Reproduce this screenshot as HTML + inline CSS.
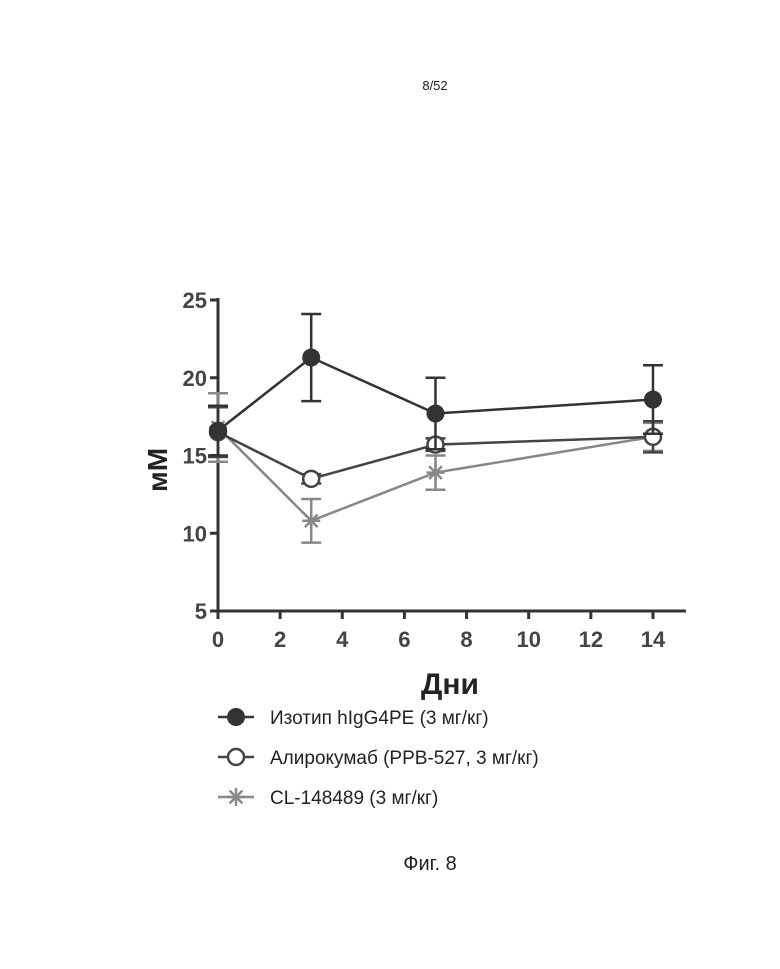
<!DOCTYPE html>
<html><head><meta charset="utf-8"><style>
body{margin:0;background:#fff;width:780px;height:964px;overflow:hidden;font-family:"Liberation Sans",sans-serif}
</style></head><body>
<svg width="780" height="964" viewBox="0 0 780 964" xmlns="http://www.w3.org/2000/svg" font-family="Liberation Sans, sans-serif">
<text x="435" y="90" font-size="13" text-anchor="middle" fill="#222">8/52</text>
<g id="chart"></g>
<text x="430" y="870" font-size="20" text-anchor="middle" fill="#222">Фиг. 8</text>
</svg>
<script>
const days=[0,3,7,14];
const isoMean=[16.6,21.3,17.7,18.6];
const isoErr=[1.6,2.8,2.3,2.2];
const aliMean=[16.5,13.5,15.7,16.2];
const aliErr=[1.6,0.3,0.4,1.0];
const clMean=[16.8,10.8,13.9,16.2];
const clErr=[2.2,1.4,1.1,0.9];
const xTicks=[0,2,4,6,8,10,12,14];
const yTicks=[5,10,15,20,25];
const NS="http://www.w3.org/2000/svg";
const g=document.getElementById('chart');
const X=v=>218+v*31.07, Y=v=>611-(v-5)*15.55;
function el(t,a,p){const e=document.createElementNS(NS,t);for(const k in a)e.setAttribute(k,a[k]);(p||g).appendChild(e);return e;}
let e;
e=el('line',{x1:218,y1:298,x2:218,y2:611,stroke:'#333','stroke-width':3});


e=el('line',{x1:218,y1:611,x2:686,y2:611,stroke:'#333','stroke-width':3});


yTicks.forEach(v=>{
 el('line',{x1:210,x2:218,y1:Y(v),y2:Y(v),stroke:'#333','stroke-width':3});
 e=el('text',{x:207,y:Y(v)+8,'text-anchor':'end','font-size':22,'font-weight':'bold',fill:'#444'});e.textContent=v;
 
 
});
xTicks.forEach(v=>{
 el('line',{x1:X(v),x2:X(v),y1:611,y2:619,stroke:'#333','stroke-width':3});
 e=el('text',{x:X(v),y:647,'text-anchor':'middle','font-size':22,'font-weight':'bold',fill:'#444'});e.textContent=v;
 
 
});
e=el('text',{x:0,y:0,transform:'translate(167,470) rotate(-90)','text-anchor':'middle','font-size':28,'font-weight':'bold',fill:'#222'});e.textContent='мМ';


e=el('text',{x:450,y:694,'text-anchor':'middle','font-size':30,'font-weight':'bold',fill:'#222'});e.textContent='Дни';


function star(cx,cy,r,col,p){const s=el('g',{stroke:col,'stroke-width':2.5},p);
 for(let a=0;a<4;a++){const t=a*Math.PI/4;el('line',{x1:cx-r*Math.cos(t),y1:cy-r*Math.sin(t),x2:cx+r*Math.cos(t),y2:cy+r*Math.sin(t)},s);}return s;}
function series(name,mean,err,col,type){
 const sg=el('g',{});
 
 
 el('polyline',{points:days.map((d,i)=>X(d)+','+Y(mean[i])).join(' '),fill:'none',stroke:col,'stroke-width':2.5},sg);
 days.forEach((d,i)=>{
  const x=X(d);
  el('line',{x1:x,x2:x,y1:Y(mean[i]-err[i]),y2:Y(mean[i]+err[i]),stroke:col,'stroke-width':2.5},sg);
  [mean[i]-err[i],mean[i]+err[i]].forEach(v=>el('line',{x1:x-10,x2:x+10,y1:Y(v),y2:Y(v),stroke:col,'stroke-width':2.5},sg));
  let m;
  if(type==='filled')m=el('circle',{cx:x,cy:Y(mean[i]),r:9,fill:'#333'},sg);
  else if(type==='open')m=el('circle',{cx:x,cy:Y(mean[i]),r:8,fill:'#fff',stroke:col,'stroke-width':2.5},sg);
  else m=star(x,Y(mean[i]),9,col,sg);
  
  
 });
}
series('series-cl148489',clMean,clErr,'#888','star');
series('series-alirocumab',aliMean,aliErr,'#444','open');
series('series-isotype',isoMean,isoErr,'#333','filled');
const leg=[['Изотип hIgG4PE (3 мг/кг)','filled','#333'],['Алирокумаб (PPB-527, 3 мг/кг)','open','#444'],['CL-148489 (3 мг/кг)','star','#888']];
leg.forEach((l,i)=>{
 const y=717+i*40;
 const lg=el('g',{});
 
 
 el('line',{x1:218,x2:254,y1:y,y2:y,stroke:l[2],'stroke-width':2.5},lg);
 if(l[1]==='filled')el('circle',{cx:236,cy:y,r:9,fill:'#333'},lg);
 else if(l[1]==='open')el('circle',{cx:236,cy:y,r:8,fill:'#fff',stroke:l[2],'stroke-width':2.5},lg);
 else star(236,y,9,l[2],lg);
 const t=el('text',{x:270,y:y+7,'font-size':19,fill:'#222'},lg);t.textContent=l[0];
});
</script>
</body></html>
